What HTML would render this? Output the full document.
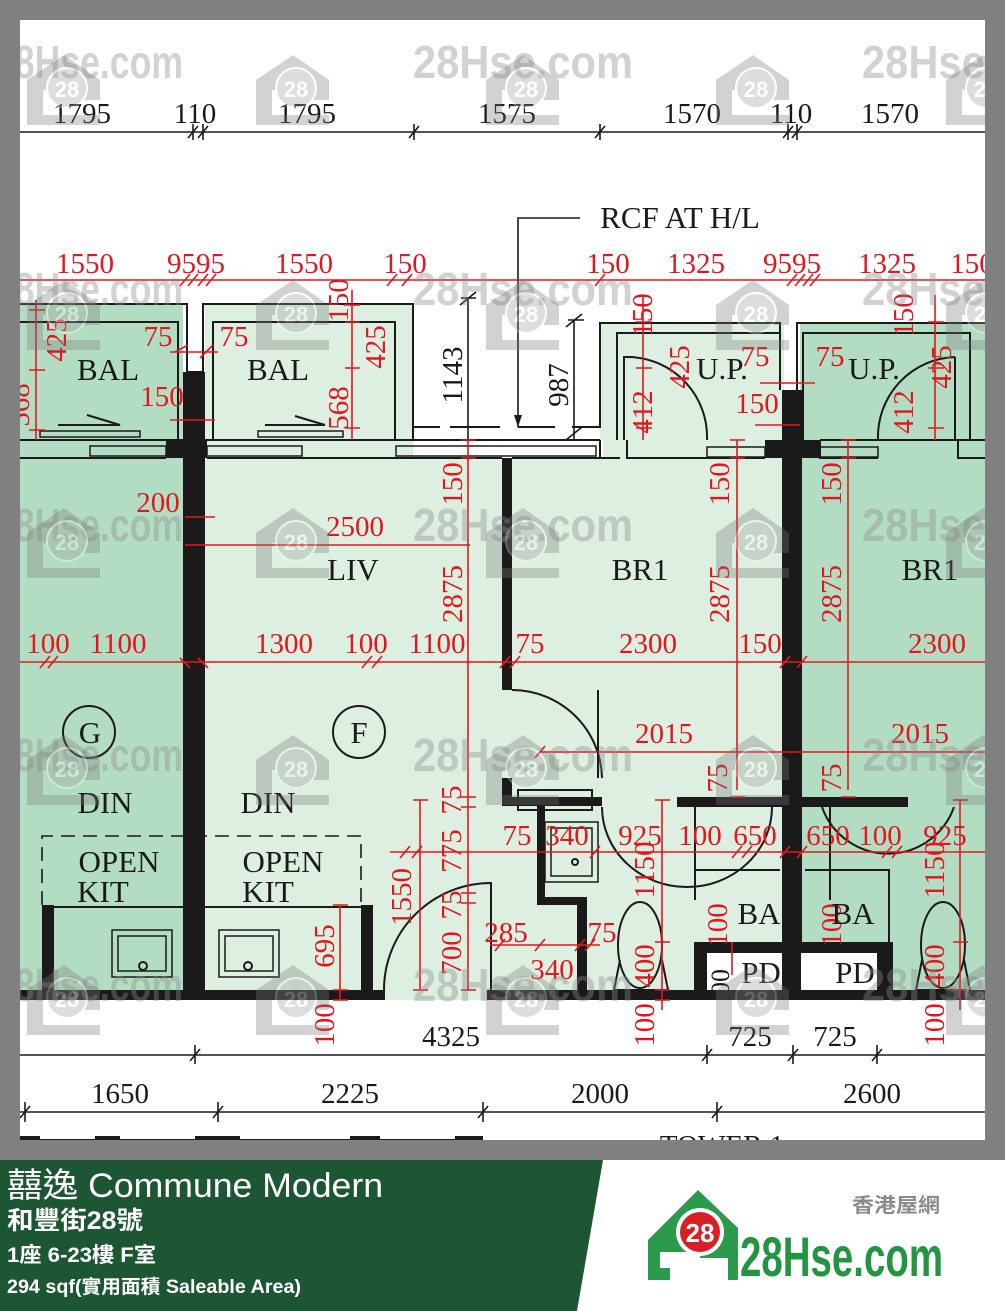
<!DOCTYPE html>
<html><head><meta charset="utf-8"><style>
html,body{margin:0;padding:0;background:#fff}
svg{display:block}
.t{font-family:"Liberation Serif",serif;font-size:29px;fill:#1a1a1a;text-anchor:middle}
.r{font-family:"Liberation Serif",serif;font-size:29px;fill:#e3161e;text-anchor:middle}
.lb{font-family:"Liberation Serif",serif;font-size:31px;fill:#1a1a1a;text-anchor:middle}
.wm{font-family:"Liberation Sans Narrow","Liberation Sans",sans-serif;font-weight:bold;font-size:46px;fill:#8c8c8c;opacity:.38}
.rl{stroke:#e3161e;stroke-width:1.6;fill:none}
.bl{stroke:#1a1a1a;stroke-width:1.6;fill:none}
.ol{stroke:#1a1a1a;stroke-width:2;fill:none}
</style></head><body>
<svg width="1005" height="1311" viewBox="0 0 1005 1311" xmlns="http://www.w3.org/2000/svg">
<rect x="0" y="0" width="1005" height="1160" fill="#808080"/>
<rect x="20" y="20" width="965" height="1120" fill="#fff"/>

<!-- fills -->
<rect x="20" y="304" width="163" height="696" fill="#b3ddc3"/>
<rect x="205" y="304" width="208" height="136" fill="#dcefe1"/>
<rect x="205" y="440" width="577" height="560" fill="#dcefe1"/>
<rect x="600" y="323" width="184" height="117" fill="#dcefe1"/>
<rect x="800" y="323" width="185" height="677" fill="#b3ddc3"/>
<rect x="413" y="440" width="190" height="18" fill="#fff"/>

<!-- balconies outlines -->
<path class="ol" d="M20,304 H187 V372 M203,372 V304 H413 V440"/>
<path class="ol" d="M20,322 H178 V440 M213,440 V322 H395 V440"/>
<path class="ol" d="M187,372 H203"/>
<rect x="183" y="372" width="22" height="628" fill="#1a1a1a"/>
<rect x="166" y="440" width="41" height="18" fill="#1a1a1a"/>
<!-- wall band -->
<path class="ol" d="M20,440 H600 M20,458 H166 M207,458 H502 M512,458 H620"/>
<rect x="90" y="446" width="76" height="10" fill="none" stroke="#1a1a1a" stroke-width="1.5"/>
<rect x="207" y="446" width="95" height="10" fill="none" stroke="#1a1a1a" stroke-width="1.5"/>
<rect x="396" y="446" width="200" height="10" fill="none" stroke="#1a1a1a" stroke-width="1.5"/>
<rect x="40" y="431" width="100" height="6" fill="none" stroke="#1a1a1a" stroke-width="1.5"/>
<rect x="258" y="431" width="85" height="6" fill="none" stroke="#1a1a1a" stroke-width="1.5"/>
<path class="ol" d="M58,425 H120 L87,415 M265,425 H325 L295,416"/>
<!-- corridor -->
<path class="ol" d="M413,427 H440 M450,427 H500 M518,427 H555 M572,427 H600 V323 H780 V390 M600,440 V458"/>
<path class="ol" d="M617,440 V333 H780 M624,440 V357 H630"/>
<path class="ol" d="M797,390 V323 H985 M803,440 V333 H970 V440 M955,440 V357"/>
<rect x="782" y="390" width="20" height="610" fill="#1a1a1a"/>
<rect x="765" y="440" width="55" height="18" fill="#1a1a1a"/>
<path class="ol" d="M627,440 V458 H765 M820,440 V458 H878 M958,440 V458 H985 M820,440 H985"/>
<rect x="707" y="447" width="58" height="10" fill="none" stroke="#1a1a1a" stroke-width="1.5"/>
<rect x="820" y="447" width="58" height="10" fill="none" stroke="#1a1a1a" stroke-width="1.5"/>
<path class="ol" d="M630,357 A80,80 0 0 1 707,440 M955,357 A80,80 0 0 0 878,440"/>
<!-- BR1 partition -->
<rect x="502" y="458" width="10" height="232" fill="#1a1a1a"/>
<path class="ol" d="M512,690 A90,90 0 0 1 602,778 M598,778 V690"/>
<!-- WC walls -->
<rect x="502" y="778" width="10" height="27" fill="#1a1a1a"/>
<rect x="502" y="797" width="100" height="9" fill="#1a1a1a"/>
<rect x="537" y="805" width="8" height="100" fill="#1a1a1a"/>
<rect x="537" y="897" width="50" height="8" fill="#1a1a1a"/>
<rect x="577" y="897" width="10" height="100" fill="#1a1a1a"/>
<rect x="677" y="797" width="231" height="10" fill="#1a1a1a"/>
<rect x="545" y="822" width="53" height="60" fill="none" stroke="#1a1a1a" stroke-width="1.5"/>
<rect x="551" y="828" width="41" height="48" fill="none" stroke="#1a1a1a" stroke-width="1.5"/>
<circle cx="575" cy="862" r="3" class="ol"/>
<path class="ol" d="M602,807 A85,80 0 0 0 772,807 M695,807 V900 M830,807 V900 M822,807 A70,70 0 0 0 954,807"/>
<path class="ol" d="M518,810 H592 V790 H518 Z"/>
<ellipse cx="640" cy="945" rx="22" ry="43" class="ol"/>
<ellipse cx="943" cy="945" rx="22" ry="43" class="ol"/>
<path class="ol" d="M620,960 L614,990 H668 L662,960"/>
<path class="ol" d="M922,960 L916,990 H970 L964,960"/>
<rect x="694" y="942" width="199" height="58" fill="#1a1a1a"/>
<rect x="707" y="953" width="75" height="37" fill="#fff"/>
<rect x="801" y="953" width="76" height="37" fill="#fff"/>
<path class="ol" d="M694,870 H780 M805,870 H889 V942"/>
<!-- left door -->
<path class="ol" d="M384,990 A107,107 0 0 1 491,883 V990"/>
<!-- bottom wall -->
<rect x="20" y="990" width="365" height="10" fill="#1a1a1a"/>
<rect x="487" y="990" width="498" height="10" fill="#1a1a1a"/>
<rect x="42" y="905" width="12" height="90" fill="#1a1a1a"/>
<rect x="361" y="905" width="12" height="90" fill="#1a1a1a"/>
<path class="ol" d="M54,907 H361"/>
<rect x="112" y="930" width="60" height="47" fill="none" stroke="#1a1a1a" stroke-width="1.5"/>
<rect x="118" y="936" width="48" height="35" fill="none" stroke="#1a1a1a" stroke-width="1.5"/>
<circle cx="143" cy="966" r="4" class="ol"/>
<rect x="219" y="930" width="60" height="47" fill="none" stroke="#1a1a1a" stroke-width="1.5"/>
<rect x="225" y="936" width="48" height="35" fill="none" stroke="#1a1a1a" stroke-width="1.5"/>
<circle cx="248" cy="966" r="4" class="ol"/>
<path d="M42,905 V836 H361 V905" fill="none" stroke="#1a1a1a" stroke-width="1.6" stroke-dasharray="14,8"/>
<circle cx="89" cy="732" r="26" class="ol"/>
<circle cx="359" cy="732" r="26" class="ol"/>

<!-- black dim lines -->
<path class="bl" d="M20,132 H985 M20,1055 H985 M20,1112 H985"/>
<path class="bl" d="M188,138 L198,126 M193,124 V140 M198,138 L208,126 M203,124 V140 M409,138 L419,126 M414,124 V140 M595,138 L605,126 M600,124 V140 M783,138 L793,126 M788,124 V140 M792,138 L802,126 M797,124 V140"/>
<path class="bl" d="M190,1061 L200,1049 M195,1045 V1064 M702,1061 L712,1049 M707,1045 V1064 M788,1061 L798,1049 M793,1045 V1064 M872,1061 L882,1049 M877,1045 V1064"/>
<path class="bl" d="M20,1118 L30,1106 M25,1102 V1122 M213,1118 L223,1106 M218,1102 V1122 M478,1118 L488,1106 M483,1102 V1122 M712,1118 L722,1106 M717,1102 V1122"/>
<path class="bl" d="M518,427 V218 H580"/>
<path d="M514,415 L518,427 L522,415" fill="#1a1a1a"/>
<path class="bl" d="M468,298 V440 M460,305 L476,292 M461,298 H476 M574,320 V440 M566,327 L582,314 M568,320 H584 M566,440 L582,427"/>
<rect x="20" y="1136" width="463" height="4" fill="#1a1a1a"/>
<rect x="40" y="1136" width="55" height="3" fill="#fff"/><rect x="120" y="1136" width="75" height="3" fill="#fff"/><rect x="240" y="1136" width="110" height="3" fill="#fff"/><rect x="380" y="1136" width="75" height="3" fill="#fff"/>
<text class="t" x="722" y="1155">TOWER 1</text>

<!-- red dim lines -->
<path class="rl" d="M20,280 H985 M170,352 H218 M170,420 H215 M760,383 H815 M755,425 H800 M185,517 H215 M185,545 H470 M20,662 H985 M540,752 H985 M390,852 H985 M490,945 H600"/>
<path class="rl" d="M36,300 V440 M352,290 V440 M468,440 V990 M643,295 V440 M737,440 V790 M848,440 V790 M935,295 V440 M420,800 V990 M662,800 V1010 M340,905 V1000 M960,800 V1010 M732,942 V975"/>
<g class="rl">
<path d="M180,286 L190,274 M188,286 L198,274 M198,286 L208,274 M206,286 L216,274 M387,286 L397,274 M402,286 L412,274 M595,286 L605,274 M787,286 L797,274 M795,286 L805,274 M803,286 L813,274 M810,286 L820,274"/>
<path d="M175,352 L188,345 M200,358 L213,345 M180,658 L190,668 M198,658 L208,668 M40,668 L50,656 M48,668 L58,656 M362,668 L372,656 M372,668 L382,656 M500,668 L510,656 M510,668 L520,656 M780,668 L790,656 M797,668 L807,656"/>
<path d="M29,310 H45 M29,370 H45 M29,430 H45 M345,305 H360 M345,322 H360 M345,368 H360 M345,428 H360 M636,322 H652 M636,368 H652 M636,428 H652 M928,322 H944 M928,368 H944 M928,428 H944"/>
<path d="M461,440 H476 M461,458 H476 M730,440 H745 M730,458 H745 M841,440 H856 M841,458 H856 M730,797 H745 M841,797 H856 M413,800 H428 M413,990 H428 M461,797 H476 M461,807 H476 M461,893 H476 M461,903 H476 M461,990 H476 M655,800 H670 M655,942 H670 M655,990 H670 M655,1000 H670 M333,905 H348 M333,990 H348 M333,1000 H348 M953,800 H968 M953,942 H968 M953,990 H968"/>
<path d="M400,858 L410,846 M412,858 L422,846 M590,858 L600,846 M732,858 L742,846 M742,858 L752,846 M780,858 L790,846 M797,858 L807,846 M882,858 L892,846 M892,858 L902,846 M535,758 L545,746 M495,951 L505,939 M535,951 L545,939 M575,951 L585,939 M585,951 L595,939"/>
</g>

<!-- red texts -->
<g class="r">
<text x="85" y="273">1550</text><text x="196" y="273">9595</text><text x="304" y="273">1550</text><text x="405" y="273">150</text>
<text x="608" y="273">150</text><text x="696" y="273">1325</text><text x="792" y="273">9595</text><text x="887" y="273">1325</text><text x="972" y="273">150</text>
<text x="158" y="346">75</text><text x="234" y="346">75</text><text x="162" y="406">150</text>
<text x="755" y="366">75</text><text x="830" y="366">75</text><text x="757" y="413">150</text>
<text x="158" y="512">200</text><text x="355" y="536">2500</text>
<text x="48" y="653">100</text><text x="118" y="653">1100</text><text x="284" y="653">1300</text><text x="366" y="653">100</text><text x="437" y="653">1100</text><text x="530" y="653">75</text><text x="648" y="653">2300</text><text x="760" y="653">150</text><text x="937" y="653">2300</text>
<text x="664" y="743">2015</text><text x="920" y="743">2015</text>
<text x="517" y="845">75</text><text x="567" y="845">340</text><text x="640" y="845">925</text><text x="700" y="845">100</text><text x="755" y="845">650</text><text x="828" y="845">650</text><text x="880" y="845">100</text><text x="945" y="845">925</text>
<text x="506" y="942">285</text><text x="552" y="979">340</text><text x="602" y="942">75</text>
<text transform="translate(66,340) rotate(-90)">425</text>
<text transform="translate(29,405) rotate(-90)">568</text>
<text transform="translate(348,300) rotate(-90)">150</text>
<text transform="translate(385,347) rotate(-90)">425</text>
<text transform="translate(348,408) rotate(-90)">568</text>
<text transform="translate(652,315) rotate(-90)">150</text>
<text transform="translate(689,367) rotate(-90)">425</text>
<text transform="translate(652,412) rotate(-90)">412</text>
<text transform="translate(913,315) rotate(-90)">150</text>
<text transform="translate(951,367) rotate(-90)">425</text>
<text transform="translate(913,412) rotate(-90)">412</text>
<text transform="translate(462,484) rotate(-90)">150</text>
<text transform="translate(462,594) rotate(-90)">2875</text>
<text transform="translate(729,484) rotate(-90)">150</text>
<text transform="translate(729,594) rotate(-90)">2875</text>
<text transform="translate(841,484) rotate(-90)">150</text>
<text transform="translate(841,594) rotate(-90)">2875</text>
<text transform="translate(727,778) rotate(-90)">75</text>
<text transform="translate(841,778) rotate(-90)">75</text>
<text transform="translate(461,800) rotate(-90)">75</text>
<text transform="translate(461,851) rotate(-90)">775</text>
<text transform="translate(461,905) rotate(-90)">75</text>
<text transform="translate(461,953) rotate(-90)">700</text>
<text transform="translate(411,897) rotate(-90)">1550</text>
<text transform="translate(654,870) rotate(-90)">1150</text>
<text transform="translate(654,966) rotate(-90)">400</text>
<text transform="translate(654,1025) rotate(-90)">100</text>
<text transform="translate(334,946) rotate(-90)">695</text>
<text transform="translate(334,1025) rotate(-90)">100</text>
<text transform="translate(727,925) rotate(-90)">100</text>
<text transform="translate(841,925) rotate(-90)">100</text>
<text transform="translate(944,870) rotate(-90)">1150</text>
<text transform="translate(944,966) rotate(-90)">400</text>
<text transform="translate(944,1025) rotate(-90)">100</text>
</g>

<!-- black texts -->
<g class="t">
<text x="82" y="123">1795</text><text x="195" y="123">110</text><text x="307" y="123">1795</text><text x="507" y="123">1575</text><text x="692" y="123">1570</text><text x="791" y="123">110</text><text x="890" y="123">1570</text>
<text x="451" y="1046">4325</text><text x="750" y="1046">725</text><text x="835" y="1046">725</text>
<text x="120" y="1103">1650</text><text x="350" y="1103">2225</text><text x="600" y="1103">2000</text><text x="872" y="1103">2600</text>
<text transform="translate(462,375) rotate(-90)">1143</text>
<text transform="translate(568,385) rotate(-90)">987</text>
<text transform="translate(729,982) rotate(-90)" style="font-size:26px">00</text>
</g>
<g class="lb">
<text x="680" y="228">RCF AT H/L</text>
<text x="108" y="380">BAL</text><text x="278" y="380">BAL</text>
<text x="722" y="379">U.P.</text><text x="874" y="379">U.P.</text>
<text x="353" y="580">LIV</text><text x="640" y="580">BR1</text><text x="930" y="580">BR1</text>
<text x="90" y="743">G</text><text x="359" y="743">F</text>
<text x="105" y="813">DIN</text><text x="268" y="813">DIN</text>
<text x="119" y="872">OPEN</text><text x="103" y="902">KIT</text>
<text x="283" y="872">OPEN</text><text x="268" y="902">KIT</text>
<text x="759" y="924">BA</text><text x="853" y="924">BA</text>
<text x="761" y="983">PD</text><text x="855" y="983">PD</text>
</g>

<!-- watermarks -->
<g>
<text class="wm" x="-5" y="78" textLength="188" lengthAdjust="spacingAndGlyphs">28Hse.com</text>
<text class="wm" x="413" y="78" textLength="220" lengthAdjust="spacingAndGlyphs">28Hse.com</text>
<text class="wm" x="862" y="78" textLength="220" lengthAdjust="spacingAndGlyphs">28Hse.com</text>
<text class="wm" x="-5" y="305" textLength="188" lengthAdjust="spacingAndGlyphs">28Hse.com</text>
<text class="wm" x="413" y="305" textLength="220" lengthAdjust="spacingAndGlyphs">28Hse.com</text>
<text class="wm" x="862" y="305" textLength="220" lengthAdjust="spacingAndGlyphs">28Hse.com</text>
<text class="wm" x="-5" y="541" textLength="188" lengthAdjust="spacingAndGlyphs">28Hse.com</text>
<text class="wm" x="413" y="541" textLength="220" lengthAdjust="spacingAndGlyphs">28Hse.com</text>
<text class="wm" x="862" y="541" textLength="220" lengthAdjust="spacingAndGlyphs">28Hse.com</text>
<text class="wm" x="-5" y="771" textLength="188" lengthAdjust="spacingAndGlyphs">28Hse.com</text>
<text class="wm" x="413" y="771" textLength="220" lengthAdjust="spacingAndGlyphs">28Hse.com</text>
<text class="wm" x="862" y="771" textLength="220" lengthAdjust="spacingAndGlyphs">28Hse.com</text>
<text class="wm" x="-5" y="1001" textLength="188" lengthAdjust="spacingAndGlyphs">28Hse.com</text>
<text class="wm" x="413" y="1001" textLength="220" lengthAdjust="spacingAndGlyphs">28Hse.com</text>
<text class="wm" x="862" y="1001" textLength="220" lengthAdjust="spacingAndGlyphs">28Hse.com</text>
</g>
<defs>
<g id="h" opacity="0.32">
<path d="M0,25 L37,0 L73,25 V45 H57 V35 H16 V60 H73 V70 H0 Z" fill="#777"/>
<circle cx="40" cy="33" r="20" fill="#999" stroke="#fff" stroke-width="2"/>
<text x="40" y="42" font-family="Liberation Sans,sans-serif" font-weight="bold" font-size="22" fill="#fff" text-anchor="middle">28</text>
</g>
</defs>
<use href="#h" x="27" y="55"/><use href="#h" x="256" y="55"/><use href="#h" x="486" y="55"/><use href="#h" x="716" y="55"/><use href="#h" x="946" y="55"/>
<use href="#h" x="27" y="280"/><use href="#h" x="256" y="280"/><use href="#h" x="486" y="280"/><use href="#h" x="716" y="280"/><use href="#h" x="946" y="280"/>
<use href="#h" x="27" y="508"/><use href="#h" x="256" y="508"/><use href="#h" x="486" y="508"/><use href="#h" x="716" y="508"/><use href="#h" x="946" y="508"/>
<use href="#h" x="27" y="735"/><use href="#h" x="256" y="735"/><use href="#h" x="486" y="735"/><use href="#h" x="716" y="735"/><use href="#h" x="946" y="735"/>
<use href="#h" x="27" y="965"/><use href="#h" x="256" y="965"/><use href="#h" x="486" y="965"/><use href="#h" x="716" y="965"/><use href="#h" x="946" y="965"/>

<!-- frame over plan -->
<rect x="0" y="1140" width="1005" height="20" fill="#808080"/>
<rect x="985" y="0" width="20" height="1160" fill="#808080"/>
<rect x="0" y="0" width="20" height="1160" fill="#808080"/>
<rect x="0" y="0" width="1005" height="20" fill="#808080"/>

<!-- banner -->
<rect x="0" y="1160" width="1005" height="151" fill="#fff"/>
<polygon points="0,1160 603,1160 577,1311 0,1311" fill="#1d5632"/>
<g font-family="'Liberation Sans','Noto Sans CJK TC',sans-serif" fill="#fff">
<text x="7" y="1197" font-size="34" textLength="376" lengthAdjust="spacingAndGlyphs">囍逸 Commune Modern</text>
<text x="7" y="1229" font-size="25" font-weight="bold" textLength="136" lengthAdjust="spacingAndGlyphs">和豐街28號</text>
<text x="7" y="1262" font-size="21" font-weight="bold" textLength="149" lengthAdjust="spacingAndGlyphs">1座 6-23樓 F室</text>
<text x="7" y="1293" font-size="19" font-weight="bold" textLength="294" lengthAdjust="spacingAndGlyphs">294 sqf(實用面積 Saleable Area)</text>
</g>
<path d="M648,1240 L698,1190 L738,1228 V1280 H728 V1258 H670 V1280 H648 Z" fill="#2c9a4a"/>
<path d="M660,1252 H700 V1268 H660 Z" fill="#fff"/>
<circle cx="700" cy="1232" r="24" fill="#fff"/>
<circle cx="700" cy="1232" r="20" fill="#d91f26"/>
<text x="700" y="1242" font-family="Liberation Sans,sans-serif" font-weight="bold" font-size="26" fill="#fff" text-anchor="middle">28</text>
<text x="740" y="1276" font-family="'Liberation Sans Narrow','Liberation Sans',sans-serif" font-weight="bold" font-size="56" fill="#239442" textLength="203" lengthAdjust="spacingAndGlyphs">28Hse.com</text>
<text x="852" y="1212" font-family="'Noto Sans CJK TC',sans-serif" font-weight="bold" font-size="20" fill="#8a8a8a" textLength="88" lengthAdjust="spacingAndGlyphs">香港屋網</text>
</svg>
</body></html>
